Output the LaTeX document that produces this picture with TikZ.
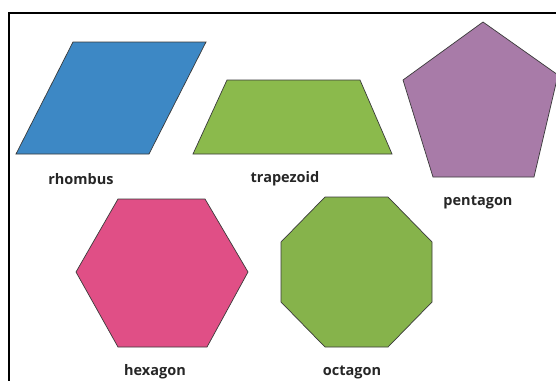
\documentclass[tikz,border=0pt]{standalone}
\usepackage{fontspec}
\setmainfont{Open Sans}
\definecolor{rhblue}{HTML}{3D88C5}
\definecolor{trgreen}{HTML}{8BBA4C}
\definecolor{pnpurple}{HTML}{A87BA8}
\definecolor{hxpink}{HTML}{E04F86}
\definecolor{ocgreen}{HTML}{86B34B}
\definecolor{edgegray}{HTML}{3A3A3A}
\begin{document}
\begin{tikzpicture}[x=1pt,y=-1pt,
  polyshape/.style={draw=edgegray,line width=0.7pt,line join=miter},
  lbl/.style={font=\fontsize{14.5}{16}\selectfont\bfseries,text=black!85,inner sep=0pt}]
\useasboundingbox (0,0) rectangle (556,380);
\fill[white] (0,0) rectangle (556,380);
% frame
\draw[line width=2pt,black] (9,390) -- (9,13) -- (566,13);
% rhombus
\draw[polyshape,fill=rhblue] (73,42) -- (206,42) -- (149,154) -- (16,154) -- cycle;
% trapezoid
\draw[polyshape,fill=trgreen] (227,80) -- (360,80) -- (392,154) -- (193,154) -- cycle;
% pentagon
\draw[polyshape,fill=pnpurple] (483,22) -- (558,75) -- (534,177) -- (433,177) -- (403,80) -- cycle;
% hexagon
\draw[polyshape,fill=hxpink] (118,199) -- (205,199) -- (248,272) -- (207,347) -- (118,347) -- (76,272) -- cycle;
% octagon
\draw[polyshape,fill=ocgreen] (325,197) -- (388,197) -- (432,242) -- (432,302) -- (388,347) -- (325,347) -- (281,302) -- (281,242) -- cycle;
% labels
\node[lbl] (lrh) at (81,179) {rhombus};
\node[lbl] (ltr) at (285,179) {trapezoid};
\node[lbl] (lpn) at (478,202) {pentagon};
\node[lbl] (lhx) at (155,372) {hexagon};
\node[lbl] (loc) at (352,372) {octagon};
\end{tikzpicture}
\end{document}
